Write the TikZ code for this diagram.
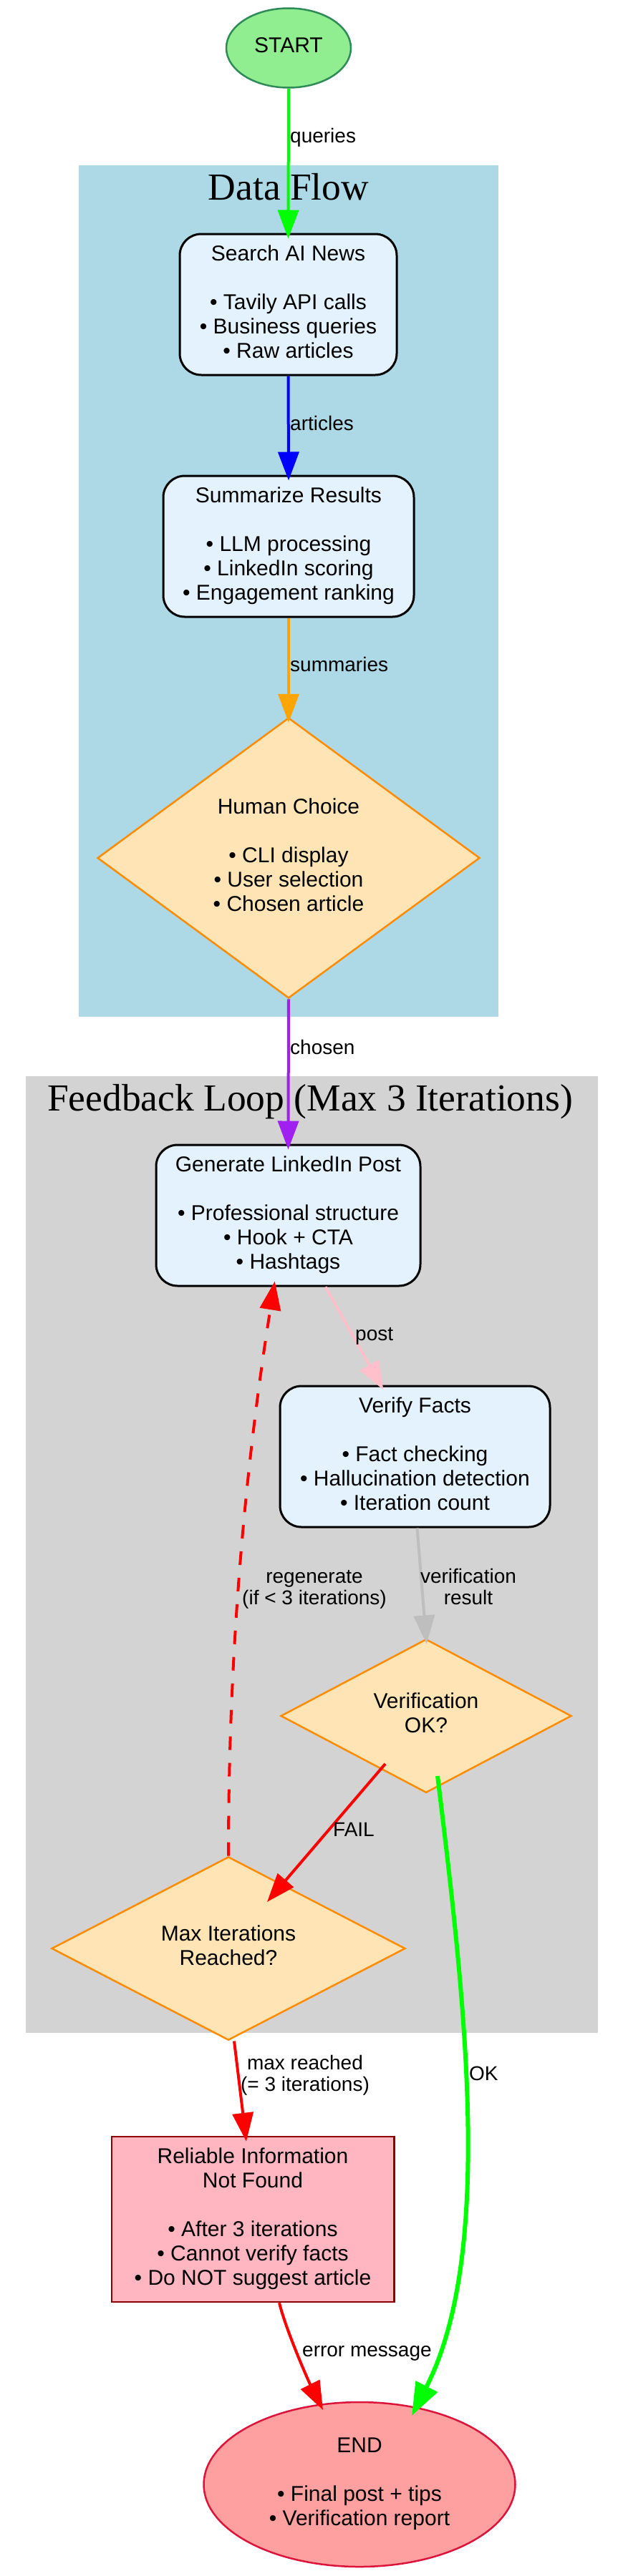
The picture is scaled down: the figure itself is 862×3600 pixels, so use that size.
\documentclass[tikz,border=0pt]{standalone}
\usepackage{fontspec}
\setmainfont{Liberation Sans}
\newfontfamily\myclusterfont{Liberation Serif}
\usetikzlibrary{shapes.geometric,arrows.meta,calc}
\definecolor{startfill}{HTML}{90EE90}
\definecolor{startdraw}{HTML}{2E8B57}
\definecolor{procfill}{HTML}{E3F2FD}
\definecolor{decfill}{HTML}{FFE4B5}
\definecolor{decdraw}{HTML}{FF8C00}
\definecolor{errfill}{HTML}{FFB6C1}
\definecolor{errdraw}{HTML}{8B0000}
\definecolor{endfill}{HTML}{FFA0A0}
\definecolor{enddraw}{HTML}{DC143C}
\definecolor{dfbg}{HTML}{ADD8E6}
\definecolor{fbbg}{HTML}{D3D3D3}
\definecolor{egreen}{HTML}{00FF00}
\definecolor{eblue}{HTML}{0000FF}
\definecolor{eorange}{HTML}{FFA500}
\definecolor{epurple}{HTML}{A020F0}
\definecolor{epink}{HTML}{FFC0CB}
\definecolor{egray}{HTML}{BEBEBE}
\definecolor{ered}{HTML}{FF0000}
\newcommand\myNfont{\fontsize{30}{34}\selectfont}
\newcommand\myEfont{\fontsize{28}{30}\selectfont}
\newcommand\myTfont{\myclusterfont\fontsize{53.5}{60}\selectfont}
\begin{document}
\begin{tikzpicture}[x=1pt,y=-1pt,
  proc/.style={draw=black, line width=3pt, fill=procfill, rounded corners=30pt, align=center, inner sep=0pt, font=\myNfont},
  dec/.style={diamond, draw=decdraw, line width=2.5pt, fill=decfill, align=center, inner sep=0pt, font=\myNfont},
  term/.style={ellipse, line width=2.5pt, inner sep=0pt, align=center, font=\myNfont},
  errbox/.style={rectangle, draw=errdraw, fill=errfill, line width=2.5pt, align=center, inner sep=0pt, font=\myNfont},
  lbl/.style={font=\myEfont, inner sep=0pt, align=center},
  ttl/.style={font=\myTfont, inner sep=0pt, anchor=base},
  e/.style={line width=4pt, -{Triangle[length=40pt,width=29pt]}, shorten >=-8pt},
]
\fill[white] (0,0) rectangle (862,3600);
\useasboundingbox (0,0) rectangle (862,3600);

% clusters
\fill[dfbg] (110,231) rectangle (696,1421);
\node[ttl] (dftitle) at (403,279) {Data Flow};
\fill[fbbg] (35.5,1504) rectangle (835,2841);
\node[ttl] (fbtitle) at (433,1552) {Feedback Loop (Max 3 Iterations)};

% nodes
\node[term, draw=startdraw, fill=startfill, minimum width=174pt, minimum height=111pt] (start) at (403,67) {\strut START\strut};
\node[proc, minimum width=303pt, minimum height=197pt] (search) at (402.5,425.5)
  {\strut Search AI News\\[34pt]• Tavily API calls\\• Business queries\\• Raw articles\strut};
\node[proc, minimum width=350pt, minimum height=197pt] (summ) at (403,763.5)
  {\strut Summarize Results\\[34pt]• LLM processing\\• LinkedIn scoring\\• Engagement ranking\strut};
\node[dec, minimum width=534pt, minimum height=392pt] (human) at (403,1199)
  {\strut Human Choice\\[34pt]• CLI display\\• User selection\\• Chosen article\strut};
\node[proc, minimum width=369pt, minimum height=197pt] (gen) at (402.5,1698.5)
  {\strut Generate LinkedIn Post\\[34pt]• Professional structure\\• Hook + CTA\\• Hashtags\strut};
\node[proc, minimum width=377pt, minimum height=197pt] (verify) at (579.5,2035.5)
  {\strut Verify Facts\\[34pt]• Fact checking\\• Hallucination detection\\• Iteration count\strut};
\node[dec, minimum width=406pt, minimum height=183pt] (vok) at (595,2398)
  {\strut Verification\\OK?\strut};
\node[dec, minimum width=494pt, minimum height=185pt] (maxit) at (319,2723)
  {\strut Max Iterations\\Reached?\strut};
\node[errbox, minimum width=394.5pt, minimum height=231pt] (reliable) at (353,3101.5)
  {\strut Reliable Information\\Not Found\\[34pt]• After 3 iterations\\• Cannot verify facts\\• Do NOT suggest article\strut};
\node[term, draw=enddraw, fill=endfill, minimum width=435pt, minimum height=230pt,
  label={[font=\myNfont, align=center, inner sep=0pt]center:{\strut END\\[34pt]• Final post + tips\\• Verification report\strut}}] (finish) at (502,3472) {};

% edges
\draw[e, egreen] (start.south) -- (search.north);
\draw[e, eblue] (search.south) -- (summ.north);
\draw[e, eorange] (summ.south) -- (human.north);
\draw[e, epurple] (human.south) -- (gen.north);
\draw[e, epink] ($(gen.south)+(52,0)$) -- ($(verify.north)+(-48,0)$);
\draw[e, egray] ($(verify.south)+(3,0)$) -- (vok.north);
\draw[e, ered, shorten >=0pt] ($(vok.center)+(-57,67)$) -- ($(maxit.center)+(54,-65)$);
\draw[e, ered, dash pattern=on 19pt off 18pt] (maxit.north) .. controls ($(maxit.north)+(0,-330)$) and ($(gen.south)+(-52,200)$) .. ($(gen.south)+(-20,0)$);
\draw[e, ered] ($(maxit.south)+(8,0)$) -- ($(reliable.north)+(-10,0)$);
\draw[e, ered, shorten >=0pt] ($(reliable.south)+(37,0)$) .. controls ($(reliable.south)+(47,40)$) and ($(finish.center)+(-71,-144)$) .. ($(finish.center)+(-51,-104)$);
\draw[e, egreen, line width=6pt, -{Triangle[length=46pt,width=33pt]}, shorten >=0pt] ($(vok.center)+(16,84)$) .. controls (650,2800) and (690,3150) .. ($(finish.center)+(73,-96)$);

% edge labels
\node[lbl, anchor=base west] (lq) at (405,199) {queries};
\node[lbl, anchor=base west] (la) at (405,601) {articles};
\node[lbl, anchor=base west] (ls) at (405,938) {summaries};
\node[lbl, anchor=base west] (lc) at (405,1473) {chosen};
\node[lbl, anchor=base west] (lp) at (496,1873) {post};
\node[lbl] (lv) at (654,2221) {\strut verification\\result\strut};
\node[lbl] (lr) at (439,2221) {\strut regenerate\\(if < 3 iterations)\strut};
\node[lbl, anchor=base west] (lf) at (465,2566) {FAIL};
\node[lbl] (lm) at (426,2901) {\strut max reached\\(= 3 iterations)\strut};
\node[lbl, anchor=base west] (lo) at (655,2907) {OK};
\node[lbl, anchor=base west] (le) at (422,3293) {error message};
\end{tikzpicture}
\end{document}
